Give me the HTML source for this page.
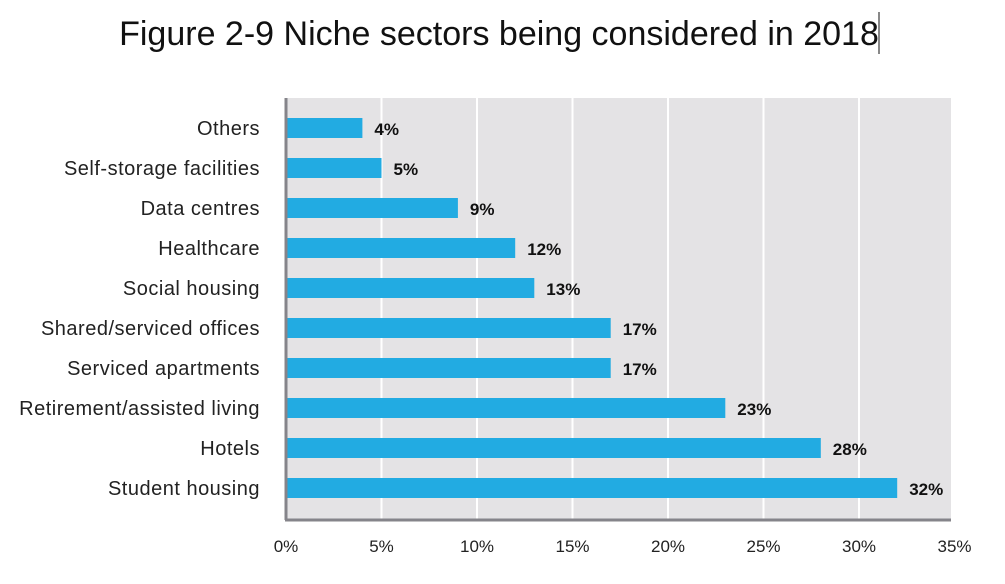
<!DOCTYPE html>
<html><head><meta charset="utf-8"><style>
html,body{margin:0;padding:0;background:#fff;}
body{width:1005px;height:579px;overflow:hidden;}
text{font-family:"Liberation Sans",sans-serif;}
</style></head><body>
<svg id="chart" width="1005" height="579" xmlns="http://www.w3.org/2000/svg">
<text x="499" y="45" text-anchor="middle" font-size="34" fill="#111">Figure 2-9 Niche sectors being considered in 2018</text>
<line x1="879" y1="12" x2="879" y2="54" stroke="#111" stroke-width="1"/>
<rect x="286" y="98" width="665" height="421" fill="#e4e3e5"/>
<g id="grid"></g><g id="bars"></g><g id="labels"></g><g id="ticks"></g>
<line x1="286" y1="98" x2="286" y2="520" stroke="#85848a" stroke-width="3"/>
<line x1="285" y1="520" x2="951" y2="520" stroke="#85848a" stroke-width="3"/>
</svg>
<script>
const categories=["Others","Self-storage facilities","Data centres","Healthcare","Social housing","Shared/serviced offices","Serviced apartments","Retirement/assisted living","Hotels","Student housing"];
const values=[4,5,9,12,13,17,17,23,28,32];
const tickValues=[0,5,10,15,20,25,30,35];
const tickLabels=["0%","5%","10%","15%","20%","25%","30%","35%"];
const NS="http://www.w3.org/2000/svg";
function x(v){return 286+v*19.1;}
function yc(i){return 128+i*40;}
function mk(tag,attrs,parent,txt){const e=document.createElementNS(NS,tag);for(const k in attrs)e.setAttribute(k,attrs[k]);if(txt!=null)e.textContent=txt;document.getElementById(parent).appendChild(e);return e;}
tickValues.forEach((t,i)=>{
  if(t>0&&t<35){const g=mk("line",{x1:x(t),x2:x(t),y1:98,y2:519,stroke:"#fff","stroke-width":2},"grid");
  
  }
  const l=mk("text",{x:x(t),y:552,"text-anchor":"middle","font-size":17,fill:"#222"},"ticks",tickLabels[i]);
  
  
});
categories.forEach((c,i)=>{
  const b=mk("rect",{x:286,y:yc(i)-10,width:x(values[i])-286,height:20,fill:"#22abe2"},"bars");
  
  
  const v=mk("text",{x:x(values[i])+12,y:yc(i)+7,"font-size":17,"font-weight":"bold",fill:"#111","font-family":"Liberation Serif, serif"},"labels",values[i]+"%");
  
  
  const t=mk("text",{x:260,y:yc(i)+7,"text-anchor":"end","font-size":20,"letter-spacing":0.5,fill:"#222"},"labels",c);
  
  
});
</script>
</body></html>
